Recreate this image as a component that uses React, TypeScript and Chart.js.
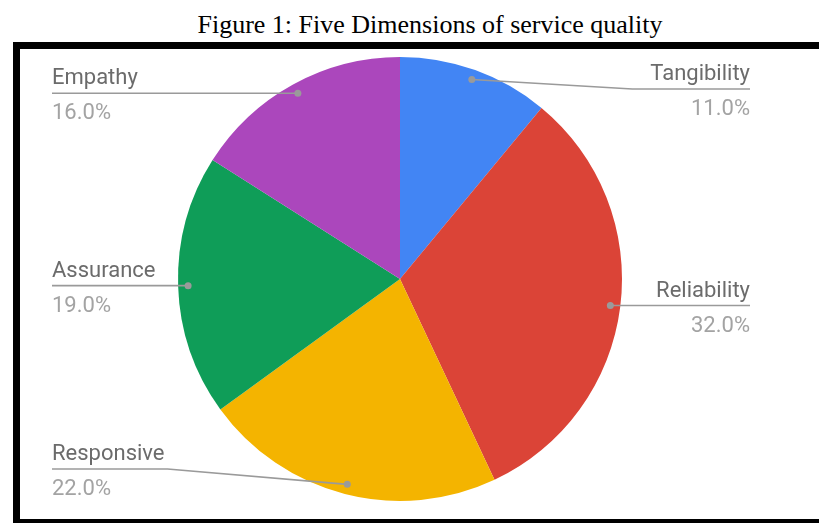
import React, { useEffect, useRef } from "react";
import { Chart, registerables } from "chart.js";

Chart.register(...registerables);

const titleText = "Figure 1: Five Dimensions of service quality";
const categories = ["Tangibility", "Reliability", "Responsive", "Assurance", "Empathy"];
const shares = [11, 32, 22, 19, 16];
const sliceColors = ["#4285F4", "#DB4437", "#F4B400", "#0F9D58", "#AB47BC"];

const LEFT_X = 52;
const RIGHT_X = 750;
const MIN_LINE_Y = 89;
const MAX_LINE_Y = 469;

const labelPlugin = {
  id: "leaderLabels",
  afterDatasetsDraw(chart: any) {
    const ctx = chart.ctx;
    const meta = chart.getDatasetMeta(0);
    const total = shares.reduce((a, b) => a + b, 0);
    ctx.save();
    meta.data.forEach((arc: any, i: number) => {
      const p = arc.getProps(["x", "y", "startAngle", "endAngle", "outerRadius"], true);
      const mid = (p.startAngle + p.endAngle) / 2;
      const rr = p.outerRadius * 0.955;
      const dx = p.x + Math.cos(mid) * rr;
      const dy = p.y + Math.sin(mid) * rr;
      const right = Math.cos(mid) >= 0;
      const ly = Math.min(MAX_LINE_Y, Math.max(MIN_LINE_Y, dy));
      const name = categories[i];
      const pct = ((shares[i] / total) * 100).toFixed(1) + "%";
      ctx.font = "22px Roboto";
      const w = ctx.measureText(name).width;
      ctx.strokeStyle = "#9a9a9a";
      ctx.lineWidth = 1.6;
      ctx.beginPath();
      if (right) {
        ctx.moveTo(RIGHT_X, ly);
        ctx.lineTo(RIGHT_X - w - 18, ly);
        ctx.lineTo(dx, dy);
      } else {
        ctx.moveTo(LEFT_X, ly);
        ctx.lineTo(LEFT_X + w + 3, ly);
        ctx.lineTo(dx, dy);
      }
      ctx.stroke();
      ctx.fillStyle = "#9a9a9a";
      ctx.beginPath();
      ctx.arc(dx, dy, 3.5, 0, Math.PI * 2);
      ctx.fill();
      ctx.textBaseline = "alphabetic";
      ctx.textAlign = right ? "right" : "left";
      const tx = right ? RIGHT_X : LEFT_X;
      ctx.fillStyle = "#6b6b6b";
      ctx.fillText(name, tx, ly - 9);
      ctx.fillStyle = "#a3a3a3";
      ctx.fillText(pct, tx, ly + 26);
    });
    ctx.restore();
  },
};

export default function App() {
  const ref = useRef<HTMLCanvasElement>(null);
  useEffect(() => {
    if (!ref.current) return;
    const chart = new Chart(ref.current, {
      type: "pie",
      data: {
        labels: categories,
        datasets: [
          {
            data: shares,
            backgroundColor: sliceColors,
            borderWidth: 0,
            hoverOffset: 0,
          },
        ],
      },
      options: {
        responsive: false,
        animation: false,
        layout: { padding: { top: 57, bottom: 22, left: 178, right: 197 } },
        plugins: {
          legend: { display: false },
          tooltip: { enabled: false },
          title: { display: false },
        },
      },
      plugins: [labelPlugin],
    });
    return () => chart.destroy();
  }, []);

  return (
    <div style={{ position: "fixed", left: 0, top: 0, width: 819, height: 523, background: "#fff", overflow: "hidden" }}>
      <div
        style={{
          position: "absolute",
          left: 13,
          top: 10,
          width: 834,
          textAlign: "center",
          fontFamily: "'Liberation Serif', 'Times New Roman', serif",
          fontSize: 26,
          lineHeight: "30px",
          color: "#000",
          whiteSpace: "nowrap",
        }}
      >
        {titleText}
      </div>
      <div
        style={{
          position: "absolute",
          left: 13,
          top: 42,
          width: 840,
          height: 470,
          border: "7px solid #000",
          background: "#fff",
        }}
      />
      <canvas ref={ref} width={819} height={523} style={{ position: "absolute", left: 0, top: 0, width: 819, height: 523 }} />
    </div>
  );
}
